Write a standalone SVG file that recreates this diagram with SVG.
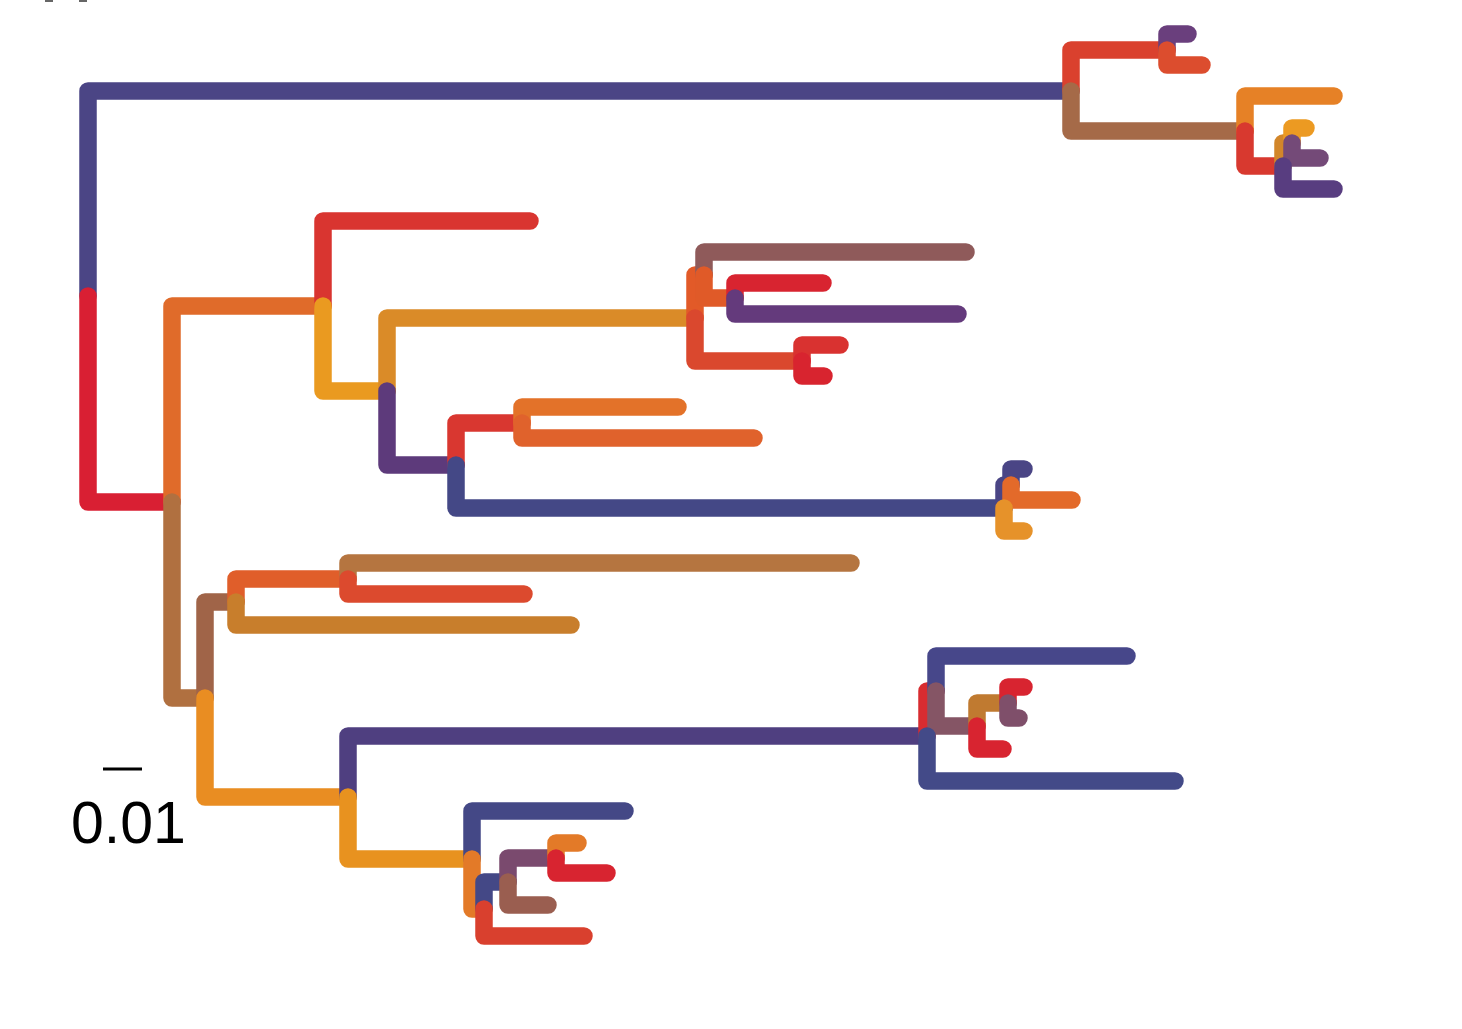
<svg xmlns="http://www.w3.org/2000/svg" width="1462" height="1029" viewBox="0 0 1462 1029">
  <style>
    .br { fill: none; stroke-width: 17.5; stroke-linecap: round; stroke-linejoin: round; }
    .scale { stroke: #000; stroke-width: 3; }
    .lbl { font-family: "Liberation Sans", Arial, sans-serif; font-size: 59px; fill: #000; }
  </style>
  <rect width="1462" height="1029" fill="#fff"/>
  <!-- clipped glyph bottoms along top edge -->
  <rect x="45" y="0" width="8" height="2" fill="#666"/>
  <rect x="79" y="0" width="8" height="2" fill="#666"/>

  <!-- branches: each path runs from parent node vertically, then horizontally to child -->
  <g id="connectors">
    <!-- root (88,296) upper clade -->
    <path class="br" stroke="#4b4585" d="M88,296 V91 H1071"/>
    <path class="br" stroke="#da412e" d="M1071,91 V50 H1167"/>
    <path class="br" stroke="#6a3f7d" d="M1167,50 V34 H1188"/>
    <path class="br" stroke="#dc4d2e" d="M1167,50 V65 H1202"/>
    <path class="br" stroke="#a56a48" d="M1071,91 V131 H1245"/>
    <path class="br" stroke="#e68126" d="M1245,131 V96 H1334"/>
    <path class="br" stroke="#d8392f" d="M1245,131 V166 H1283"/>
    <path class="br" stroke="#d2862a" d="M1283,166 V143 H1292"/>
    <path class="br" stroke="#ec9a22" d="M1292,143 V128 H1306"/>
    <path class="br" stroke="#744a78" d="M1292,143 V158 H1320"/>
    <path class="br" stroke="#583d80" d="M1283,166 V189 H1334"/>

    <!-- root lower clade -->
    <path class="br" stroke="#d91f33" d="M88,296 V502 H172"/>
    <path class="br" stroke="#e06b2a" d="M172,502 V306 H323"/>
    <path class="br" stroke="#d93530" d="M323,306 V221 H530"/>
    <path class="br" stroke="#ea9a20" d="M323,306 V391 H387"/>
    <path class="br" stroke="#da8b28" d="M387,391 V318 H695"/>
    <path class="br" stroke="#e25a28" d="M695,318 V275 H704"/>
    <path class="br" stroke="#8f5a5a" d="M704,275 V252 H966"/>
    <path class="br" stroke="#e05a28" d="M704,275 V298 H735"/>
    <path class="br" stroke="#d82430" d="M735,298 V283 H823"/>
    <path class="br" stroke="#643a7c" d="M735,298 V314 H958"/>
    <path class="br" stroke="#da482e" d="M695,318 V361 H802"/>
    <path class="br" stroke="#d93230" d="M802,361 V345 H840"/>
    <path class="br" stroke="#d8242f" d="M802,361 V376 H824"/>
    <path class="br" stroke="#5d3a7b" d="M387,391 V465 H456"/>
    <path class="br" stroke="#d93730" d="M456,465 V423 H522"/>
    <path class="br" stroke="#e37229" d="M522,423 V407 H678"/>
    <path class="br" stroke="#e0622c" d="M522,423 V438 H754"/>
    <path class="br" stroke="#444886" d="M456,465 V508 H1004"/>
    <path class="br" stroke="#4a4585" d="M1004,508 V485 H1011"/>
    <path class="br" stroke="#4a4585" d="M1011,485 V469 H1024"/>
    <path class="br" stroke="#e36a2a" d="M1011,485 V500 H1072"/>
    <path class="br" stroke="#e6922a" d="M1004,508 V531 H1024"/>

    <path class="br" stroke="#b07040" d="M172,502 V698 H205"/>
    <path class="br" stroke="#a06448" d="M205,698 V602 H236"/>
    <path class="br" stroke="#e05e2a" d="M236,602 V579 H348"/>
    <path class="br" stroke="#b57540" d="M348,579 V563 H851"/>
    <path class="br" stroke="#dc4a2e" d="M348,579 V594 H524"/>
    <path class="br" stroke="#c87e2c" d="M236,602 V625 H571"/>
    <path class="br" stroke="#e98d22" d="M205,698 V797 H348"/>
    <path class="br" stroke="#4f3f80" d="M348,797 V736 H927"/>
    <path class="br" stroke="#d82c30" d="M927,736 V691 H936"/>
    <path class="br" stroke="#47478a" d="M936,691 V656 H1127"/>
    <path class="br" stroke="#855565" d="M936,691 V726 H977"/>
    <path class="br" stroke="#c07a30" d="M977,726 V703 H1008"/>
    <path class="br" stroke="#d82430" d="M1008,703 V687 H1024"/>
    <path class="br" stroke="#7f4f6a" d="M1008,703 V718 H1019"/>
    <path class="br" stroke="#d82430" d="M977,726 V749 H1003"/>
    <path class="br" stroke="#434a88" d="M927,736 V781 H1175"/>
    <path class="br" stroke="#e8921f" d="M348,797 V859 H472"/>
    <path class="br" stroke="#444886" d="M472,859 V811 H625"/>
    <path class="br" stroke="#e37a28" d="M472,859 V909 H484"/>
    <path class="br" stroke="#444886" d="M484,909 V882 H508"/>
    <path class="br" stroke="#7a4a6e" d="M508,882 V858 H556"/>
    <path class="br" stroke="#e37a28" d="M556,858 V843 H578"/>
    <path class="br" stroke="#d82430" d="M556,858 V873 H607"/>
    <path class="br" stroke="#9a5e50" d="M508,882 V905 H548"/>
    <path class="br" stroke="#d9402e" d="M484,909 V936 H584"/>
  </g>

  <!-- scale bar -->
  <g id="scale-bar">
    <line class="scale" x1="103" y1="769" x2="142" y2="769"/>
    <text class="lbl" x="71" y="843">0.01</text>
  </g>
</svg>
